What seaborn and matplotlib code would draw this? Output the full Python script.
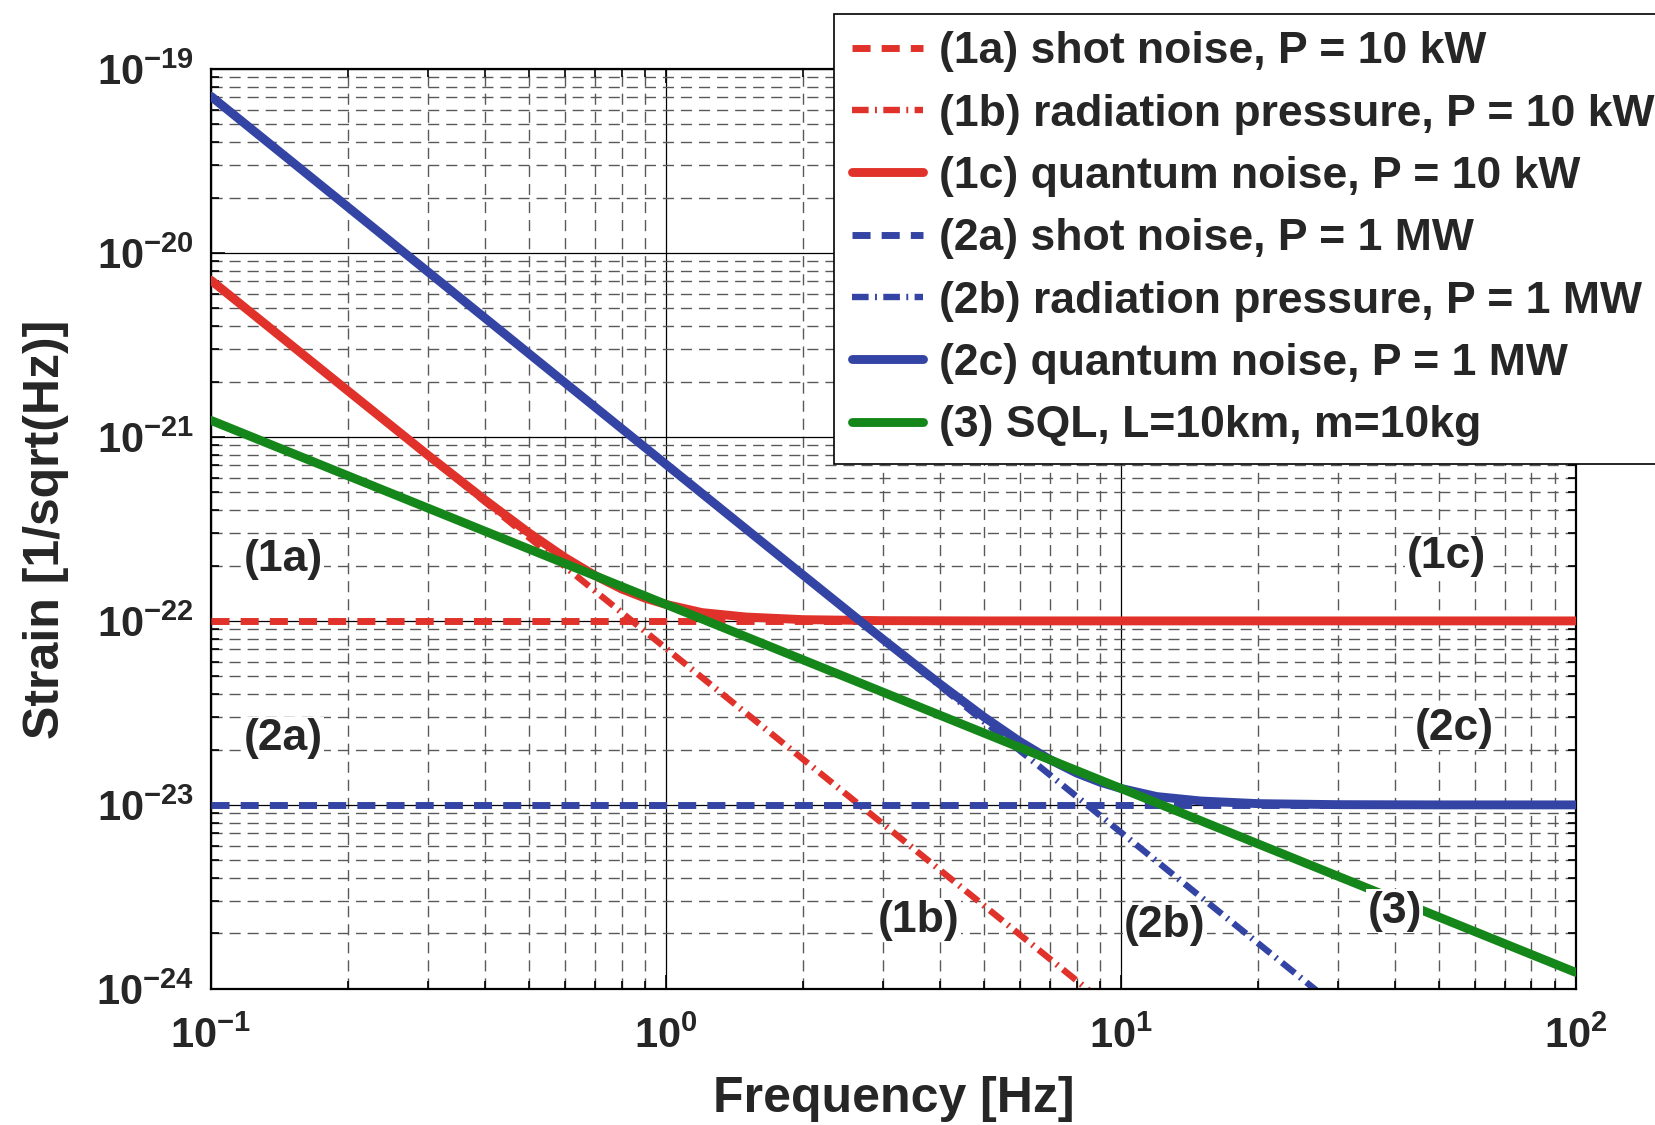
#quantum noise vs SQL, log-log strain plot

import numpy as np
import seaborn as sns
import matplotlib.pyplot as plt
from matplotlib.ticker import LogLocator

#values (frequency in Hz, strain in 1/sqrt(Hz))
freq_flat = [0.1, 100]
shot_10kw = [1.0e-22, 1.0e-22]
shot_1mw = [1.0e-23, 1.0e-23]

freq_rp_10kw = [0.1, 10]
radp_10kw = [7.1e-21, 7.1e-25]
freq_rp_1mw = [0.1, 30]
radp_1mw = [7.1e-20, 7.9e-25]

freq_q_10kw = [0.1, 0.2, 0.3, 0.4, 0.5, 0.6, 0.7, 0.8, 0.9, 1.0, 1.2, 1.5, 2, 3, 5, 10, 100]
quant_10kw = [7.1e-21, 1.78e-21, 7.95e-22, 4.55e-22, 3.01e-22, 2.21e-22, 1.76e-22, 1.49e-22,
              1.33e-22, 1.23e-22, 1.11e-22, 1.05e-22, 1.016e-22, 1.003e-22, 1.0e-22, 1.0e-22, 1.0e-22]

freq_q_1mw = [0.1, 0.3, 0.6, 1, 1.5, 2, 3, 4, 5, 6, 7, 8, 9, 10, 12, 15, 20, 30, 50, 100]
quant_1mw = [7.1e-20, 7.89e-21, 1.97e-21, 7.1e-22, 3.16e-22, 1.78e-22, 7.95e-23, 4.55e-23,
             3.01e-23, 2.21e-23, 1.76e-23, 1.49e-23, 1.33e-23, 1.23e-23, 1.11e-23, 1.05e-23,
             1.016e-23, 1.003e-23, 1.0e-23, 1.0e-23]

freq_sql = [0.1, 100]
sql = [1.23e-21, 1.23e-24]

labels = ["(1a) shot noise, P = 10 kW",
          "(1b) radiation pressure, P = 10 kW",
          "(1c) quantum noise, P = 10 kW",
          "(2a) shot noise, P = 1 MW",
          "(2b) radiation pressure, P = 1 MW",
          "(2c) quantum noise, P = 1 MW",
          "(3) SQL, L=10km, m=10kg"]

RED = "#e0322a"
BLUE = "#3444a4"
GREEN = "#15871a"

sns.set_style("ticks")
plt.rcParams["font.family"] = ["Liberation Sans", "DejaVu Sans"]
plt.rcParams["font.weight"] = "bold"
plt.rcParams["mathtext.default"] = "regular"

fig, ax = plt.subplots(figsize=(16.55, 11.25), dpi=100)
fig.subplots_adjust(left=0.1275, right=0.952, top=0.9387, bottom=0.121)
ax.set(xscale="log", yscale="log")

dash = (0, (2.6, 1.6))
dashdot = (0, (2.6, 1.0, 0.3, 1.0))

lines = [
    (freq_flat, shot_10kw, labels[0], RED, 5.0, dash, 3),
    (freq_rp_10kw, radp_10kw, labels[1], RED, 4.6, dashdot, 2),
    (freq_q_10kw, quant_10kw, labels[2], RED, 6.4, "-", 4),
    (freq_flat, shot_1mw, labels[3], BLUE, 5.0, dash, 3),
    (freq_rp_1mw, radp_1mw, labels[4], BLUE, 4.6, dashdot, 2),
    (freq_q_1mw, quant_1mw, labels[5], BLUE, 6.4, "-", 4),
    (freq_sql, sql, labels[6], GREEN, 6.4, "-", 4.5),
]
for x, y, lab, c, lw, ls, z in lines:
    sns.lineplot(x=x, y=y, ax=ax, color=c, lw=lw, linestyle=ls, label=lab, zorder=z, sort=False)

ax.set_xlim(0.1, 100)
ax.set_ylim(1e-24, 1e-19)

#matlab-like box, inward ticks and dashed minor grid
ax.xaxis.set_minor_locator(LogLocator(base=10, subs=np.arange(2, 10), numticks=100))
ax.yaxis.set_minor_locator(LogLocator(base=10, subs=np.arange(2, 10), numticks=100))
ax.tick_params(which="both", direction="in", top=True, right=True, width=1.2, color="black")
ax.tick_params(which="major", length=10, labelsize=30)
ax.tick_params(axis="x", which="major", pad=20)
ax.tick_params(axis="y", which="major", pad=12)
ax.tick_params(which="minor", length=6)
ax.grid(which="major", color="black", lw=0.9, ls="-")
ax.grid(which="minor", color="0.35", lw=1.0, ls=(0, (8, 5)))
for s in ax.spines.values():
    s.set_linewidth(1.6)
    s.set_color("black")

ax.set_xlabel("Frequency [Hz]", fontsize=36, fontweight="bold", labelpad=14)
ax.set_ylabel("Strain [1/sqrt(Hz)]", fontsize=36, fontweight="bold", labelpad=20)

#curve tags
tags = ["(1a)", "(2a)", "(1c)", "(2c)", "(1b)", "(2b)", "(3)"]
tag_x = [0.144, 0.144, 52, 54, 3.6, 12.5, 40]
tag_y = [2.16e-22, 2.29e-23, 2.24e-22, 2.6e-23, 2.36e-24, 2.21e-24, 2.65e-24]
for t, tx, ty in zip(tags, tag_x, tag_y):
    ax.text(tx, ty, t, fontsize=32, fontweight="bold", ha="center", va="center", zorder=6,
            bbox=dict(facecolor="white", edgecolor="none", pad=1))

leg = ax.legend(loc="upper left", bbox_to_anchor=(0.504, 0.988), bbox_transform=fig.transFigure,
                fontsize=32, frameon=True, fancybox=False, edgecolor="black", framealpha=1,
                handlelength=1.6, handletextpad=0.35, labelspacing=0.48, borderpad=0.4,
                borderaxespad=0)
leg.get_frame().set_linewidth(1.2)
leg.set_zorder(10)

plt.savefig("out.png", dpi=100)
